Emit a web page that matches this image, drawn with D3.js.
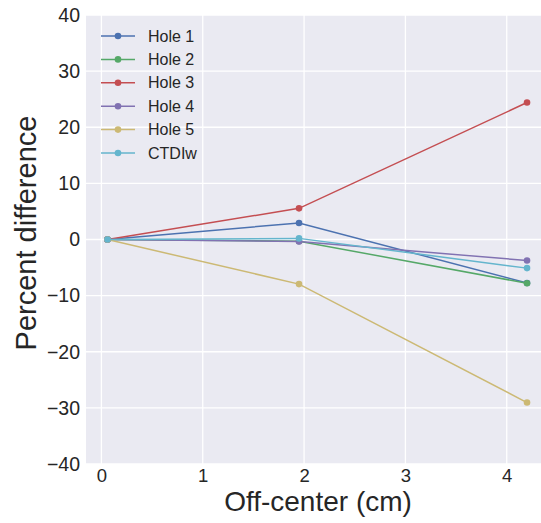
<!DOCTYPE html>
<html>
<head>
<meta charset="utf-8">
<script src="https://cdn.jsdelivr.net/npm/d3@7"></script>
<style>
  html, body { margin: 0; padding: 0; background: #ffffff; }
  svg text { font-family: Arial, "Liberation Sans", sans-serif; fill: #262626; }
</style>
</head>
<body>
<svg id="chart" width="541" height="523"></svg>
<script>
// off-center positions (cm)
const offCenter = [0.06, 1.95, 4.2]

const seriesNames = ['Hole 1', 'Hole 2', 'Hole 3', 'Hole 4', 'Hole 5', 'CTDIw']
const hole1 = [0, 2.95, -7.75]
const hole2 = [0, -0.3, -7.8]
const hole3 = [0, 5.55, 24.4]
const hole4 = [0, -0.35, -3.75]
const hole5 = [0, -7.95, -29.05]
const ctdiw = [0, 0.2, -5.1]
const seriesValues = [hole1, hole2, hole3, hole4, hole5, ctdiw]

const colors = ['#4C72B0', '#55A868', '#C44E52', '#8172B2', '#CCB974', '#64B5CD']

const xTicks = [0, 1, 2, 3, 4]
const yTicks = [-40, -30, -20, -10, 0, 10, 20, 30, 40]

const margin = { top: 15, right: -7, bottom: 59, left: 86 }
const width = 541, height = 523

const svg = d3.select('#chart')

const x = d3.scaleLinear().domain([-0.152, 4.407]).range([margin.left, width - margin.right])
const y = d3.scaleLinear().domain([-40, 40]).range([height - margin.bottom, margin.top])

// plot background
svg.append('rect')
  .attr('x', margin.left)
  .attr('y', margin.top)
  .attr('width', width - margin.right - margin.left)
  .attr('height', height - margin.bottom - margin.top)
  .attr('fill', '#EAEAF2')

// grid
const grid = svg.append('g')
grid.selectAll('line.gx')
  .data(xTicks)
  .join('line')
  .attr('class', 'gx')
  .attr('x1', d => x(d)).attr('x2', d => x(d))
  .attr('y1', margin.top).attr('y2', height - margin.bottom)
  .attr('stroke', '#ffffff').attr('stroke-width', 1.3)
grid.selectAll('line.gy')
  .data(yTicks)
  .join('line')
  .attr('class', 'gy')
  .attr('x1', margin.left).attr('x2', width - margin.right)
  .attr('y1', d => y(d)).attr('y2', d => y(d))
  .attr('stroke', '#ffffff').attr('stroke-width', 1.3)

// axes (labels only, seaborn style)
const xAxis = svg.append('g')
  .attr('transform', `translate(0,${height - margin.bottom})`)
  .call(d3.axisBottom(x).tickValues(xTicks).tickSize(0).tickPadding(5).tickFormat(d3.format('d')))
xAxis.select('.domain').remove()
xAxis.selectAll('text').attr('font-size', '18.5px').attr('fill', '#262626')
  .style('font-family', 'Arial, "Liberation Sans", sans-serif')

const yAxis = svg.append('g')
  .attr('transform', `translate(${margin.left},0)`)
  .call(d3.axisLeft(y).tickValues(yTicks).tickSize(0).tickPadding(6)
    .tickFormat(d => d < 0 ? '\u2212' + Math.abs(d) : d))
yAxis.select('.domain').remove()
yAxis.selectAll('text').attr('font-size', '19.5px').attr('fill', '#262626')
  .style('font-family', 'Arial, "Liberation Sans", sans-serif')

// axis titles
svg.append('text')
  .attr('x', 318)
  .attr('y', 511)
  .attr('text-anchor', 'middle')
  .attr('font-size', '28px')
  .text('Off-center (cm)')

svg.append('text')
  .attr('transform', 'translate(36,233) rotate(-90)')
  .attr('text-anchor', 'middle')
  .attr('font-size', '29px')
  .text('Percent difference')

// series
const line = d3.line().x((d, i) => x(offCenter[i])).y(d => y(d))
const series = svg.append('g').selectAll('g')
  .data(seriesValues)
  .join('g')

series.append('path')
  .attr('d', d => line(d))
  .attr('fill', 'none')
  .attr('stroke', (d, i) => colors[i])
  .attr('stroke-width', 1.5)

series.selectAll('circle')
  .data(d => d)
  .join('circle')
  .attr('cx', (d, i) => x(offCenter[i]))
  .attr('cy', d => y(d))
  .attr('r', 3.3)
  .attr('fill', function () { return colors[seriesValues.indexOf(d3.select(this.parentNode).datum())] })

// legend
const legend = svg.append('g').attr('transform', 'translate(101,36)')
const items = legend.selectAll('g')
  .data(seriesNames)
  .join('g')
  .attr('transform', (d, i) => `translate(0,${i * 23.4})`)
items.append('line')
  .attr('x1', 0).attr('x2', 34)
  .attr('stroke', (d, i) => colors[i]).attr('stroke-width', 1.5)
items.append('circle')
  .attr('cx', 17).attr('r', 3.3)
  .attr('fill', (d, i) => colors[i])
items.append('text')
  .attr('x', 47)
  .attr('dy', '0.35em')
  .attr('font-size', '16px')
  .text(d => d)
</script>
</body>
</html>
